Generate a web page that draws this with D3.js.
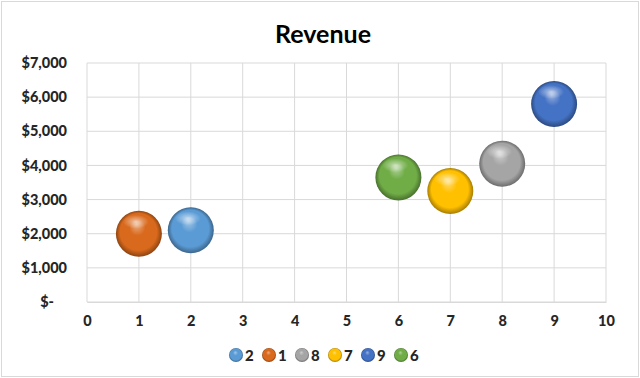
<!DOCTYPE html>
<html>
<head>
<meta charset="utf-8" />
<title>Revenue</title>
<script src="https://cdnjs.cloudflare.com/ajax/libs/d3/7.8.5/d3.min.js"></script>
<style>
  body { margin: 0; background: #fff; }
  text { font-family: Lato, "Open Sans", sans-serif; }
</style>
</head>
<body>
<svg id="chart" width="640" height="378"></svg>
<script>
  // data
  const names = ['2', '1', '8', '7', '9', '6']
  const xVals = [2, 1, 8, 7, 9, 6]
  const revenue = [2100, 2000, 4050, 3250, 5800, 3650]
  const colors = ['#5b9bd5', '#d9691c', '#a5a5a5', '#ffc000', '#4472c4', '#70ad47']
  const xTicks = [0, 1, 2, 3, 4, 5, 6, 7, 8, 9, 10]
  const yTicks = [0, 1000, 2000, 3000, 4000, 5000, 6000, 7000]

  const svg = d3.select('#chart')
  const w = 640, h = 378
  const pLeft = 87, pRight = 606, pTop = 63, pBottom = 302

  svg.append('rect').attr('x', 1.5).attr('y', 1.5).attr('width', w - 3).attr('height', h - 3)
    .attr('fill', '#fff').attr('stroke', '#d9d9d9')

  const x = d3.scaleLinear().domain([0, 10]).range([pLeft, pRight])
  const y = d3.scaleLinear().domain([0, 7000]).range([pBottom, pTop])

  // gradients for the shiny bubbles
  const defs = svg.append('defs')
  colors.forEach(function(c, i) {
    const g = defs.append('radialGradient').attr('id', 'g' + i)
      .attr('cx', '50%').attr('cy', '50%').attr('r', '50%').attr('fx', '45%').attr('fy', '30%')
    g.append('stop').attr('offset', '0%').attr('stop-color', d3.interpolateRgb(c, '#fff')(0.45))
    g.append('stop').attr('offset', '35%').attr('stop-color', c)
    g.append('stop').attr('offset', '80%').attr('stop-color', c)
    g.append('stop').attr('offset', '100%').attr('stop-color', d3.color(c).darker(1.2))
  })
  const hl = defs.append('radialGradient').attr('id', 'hl')
  hl.append('stop').attr('offset', '0%').attr('stop-color', '#fff').attr('stop-opacity', 0.6)
  hl.append('stop').attr('offset', '100%').attr('stop-color', '#fff').attr('stop-opacity', 0)

  // gridlines
  svg.append('g').selectAll('line').data(xTicks).join('line')
    .attr('x1', d => x(d)).attr('x2', d => x(d)).attr('y1', pTop).attr('y2', pBottom)
    .attr('stroke', '#d9d9d9')
  svg.append('g').selectAll('line').data(yTicks).join('line')
    .attr('x1', pLeft).attr('x2', pRight).attr('y1', d => y(d)).attr('y2', d => y(d))
    .attr('stroke', '#d9d9d9')

  // axes
  const xAxis = d3.axisBottom(x).tickValues(xTicks).tickSize(0).tickPadding(14)
  svg.append('g').attr('transform', 'translate(0,' + pBottom + ')').call(xAxis)
    .call(g => g.select('.domain').attr('stroke', '#d9d9d9'))
    .selectAll('text').attr('font-size', 14.5).attr('font-weight', 900).attr('fill', '#262626')
    .attr('font-family', 'Lato, sans-serif')

  const fmt = d => d === 0 ? '$-' : '$' + d3.format(',')(d)
  const yAxis = d3.axisLeft(y).tickValues(yTicks).tickFormat(fmt).tickSize(0).tickPadding(20)
  svg.append('g').attr('transform', 'translate(' + pLeft + ',0)').call(yAxis)
    .call(g => g.select('.domain').remove())
    .selectAll('text').attr('font-size', 14.5).attr('font-weight', 900).attr('fill', '#262626')
    .attr('font-family', 'Lato, sans-serif')
  svg.selectAll('g text').filter(function() { return this.textContent === '$-' }).attr('dx', -13)

  // bubbles
  const r = 23
  const b = svg.append('g').selectAll('g').data(names).join('g')
    .attr('transform', (d, i) => 'translate(' + x(xVals[i]) + ',' + y(revenue[i]) + ')')
  b.append('circle').attr('r', r).attr('fill', (d, i) => 'url(#g' + i + ')')
  b.append('ellipse').attr('cx', -3).attr('cy', -12).attr('rx', 13).attr('ry', 7).attr('fill', 'url(#hl)')

  // title
  svg.append('text').attr('x', 323).attr('y', 43).attr('text-anchor', 'middle')
    .attr('font-size', 25).attr('font-weight', 'bold').attr('fill', '#000').text('Revenue')

  // legend
  const itemW = 33
  const lx0 = 236
  const lg = svg.append('g').selectAll('g').data(names).join('g')
    .attr('transform', (d, i) => 'translate(' + (lx0 + i * itemW) + ',355)')
  lg.append('circle').attr('r', 7).attr('fill', (d, i) => 'url(#g' + i + ')')
  lg.append('text').attr('x', 9).attr('y', 5.5).attr('font-size', 15).attr('font-weight', 900)
    .attr('fill', '#262626').text(d => d)
</script>
</body>
</html>
